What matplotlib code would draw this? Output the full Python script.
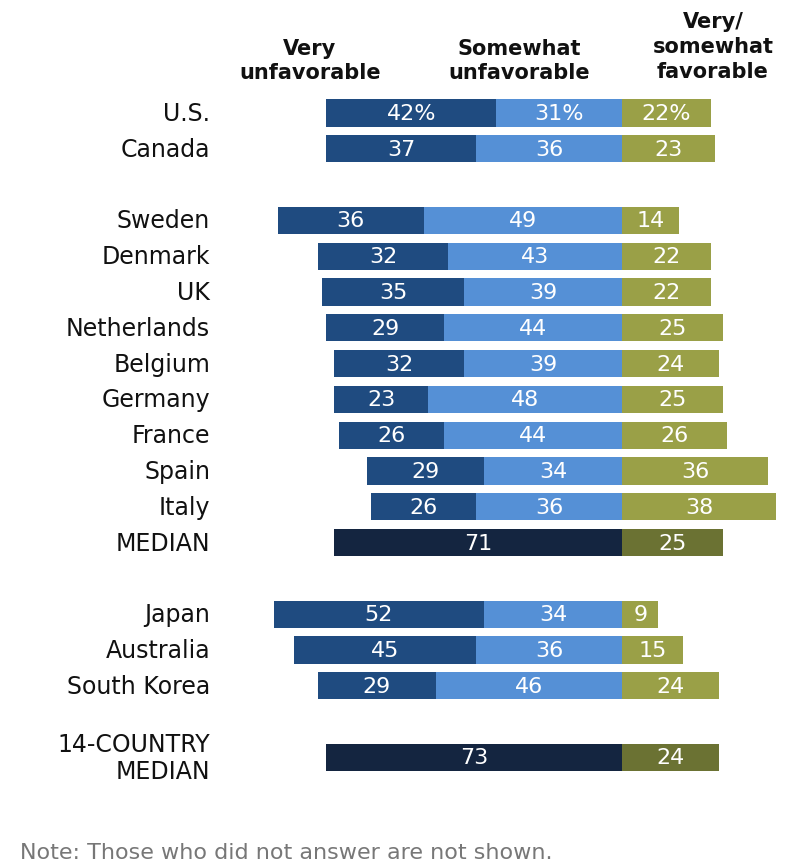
import matplotlib
matplotlib.use('Agg')
import matplotlib.pyplot as plt

countries = ['U.S.', 'Canada', 'Sweden', 'Denmark', 'UK', 'Netherlands', 'Belgium',
             'Germany', 'France', 'Spain', 'Italy', 'MEDIAN',
             'Japan', 'Australia', 'South Korea', '14-COUNTRY\nMEDIAN']
rows = [0, 1, 3, 4, 5, 6, 7, 8, 9, 10, 11, 12, 14, 15, 16, 18]
very_unfav = [42, 37, 36, 32, 35, 29, 32, 23, 26, 29, 26, None, 52, 45, 29, None]
some_unfav = [31, 36, 49, 43, 39, 44, 39, 48, 44, 34, 36, None, 34, 36, 46, None]
total_unfav = [None] * 11 + [71] + [None] * 3 + [73]
favorable = [22, 23, 14, 22, 22, 25, 24, 25, 26, 36, 38, 25, 9, 15, 24, 24]

C_VERY = '#1f4b80'
C_SOME = '#5590d6'
C_FAV = '#9aa047'
C_MED = '#142540'
C_MEDFAV = '#6b7233'

W, H = 791, 868
X0, PXU = 622, 4.05      # zero line and pixels per percentage point
Y0, PXR = 113, 35.8      # first row centre and pixels per row

fig = plt.figure(figsize=(W / 100, H / 100), dpi=100)
ax = fig.add_axes([0, 0, 1, 1])
ax.set_xlim(-X0 / PXU, (W - X0) / PXU)
ax.set_ylim((H - Y0) / PXR, -Y0 / PXR)
ax.axis('off')

font = 'DejaVu Sans'
bh = 0.76


def seg(left, width, y, color, label):
    ax.barh(y, width, left=left, height=bh, color=color, edgecolor='none')
    ax.text(left + width / 2, y + 0.03, label, ha='center', va='center',
            color='white', fontsize=16, family=font)


for i, (name, r) in enumerate(zip(countries, rows)):
    pct = '%' if i == 0 else ''
    if total_unfav[i] is None:
        v, s = very_unfav[i], some_unfav[i]
        seg(-(v + s), v, r, C_VERY, f'{v}{pct}')
        seg(-s, s, r, C_SOME, f'{s}{pct}')
        seg(0, favorable[i], r, C_FAV, f'{favorable[i]}{pct}')
    else:
        t = total_unfav[i]
        seg(-t, t, r, C_MED, f'{t}')
        seg(0, favorable[i], r, C_MEDFAV, f'{favorable[i]}')
    ax.text((210 - X0) / PXU, r + 0.03, name, ha='right', va='center',
            fontsize=17, family=font, color='#111111', linespacing=1.15)


def px_to_data(px, py):
    return (px - X0) / PXU, (py - Y0) / PXR


# column headers
hdr = dict(ha='center', va='center', fontsize=15, family=font,
           fontweight='bold', color='#111111', linespacing=1.3)
ax.text(*px_to_data(310, 61), 'Very\nunfavorable', **hdr)
ax.text(*px_to_data(519, 61), 'Somewhat\nunfavorable', **hdr)
ax.text(*px_to_data(713, 47), 'Very/\nsomewhat\nfavorable', **hdr)

ax.text(*px_to_data(20, 853), 'Note: Those who did not answer are not shown.',
        ha='left', va='center', fontsize=16, family=font, color='#777777')

fig.savefig('out.png', dpi=100)
